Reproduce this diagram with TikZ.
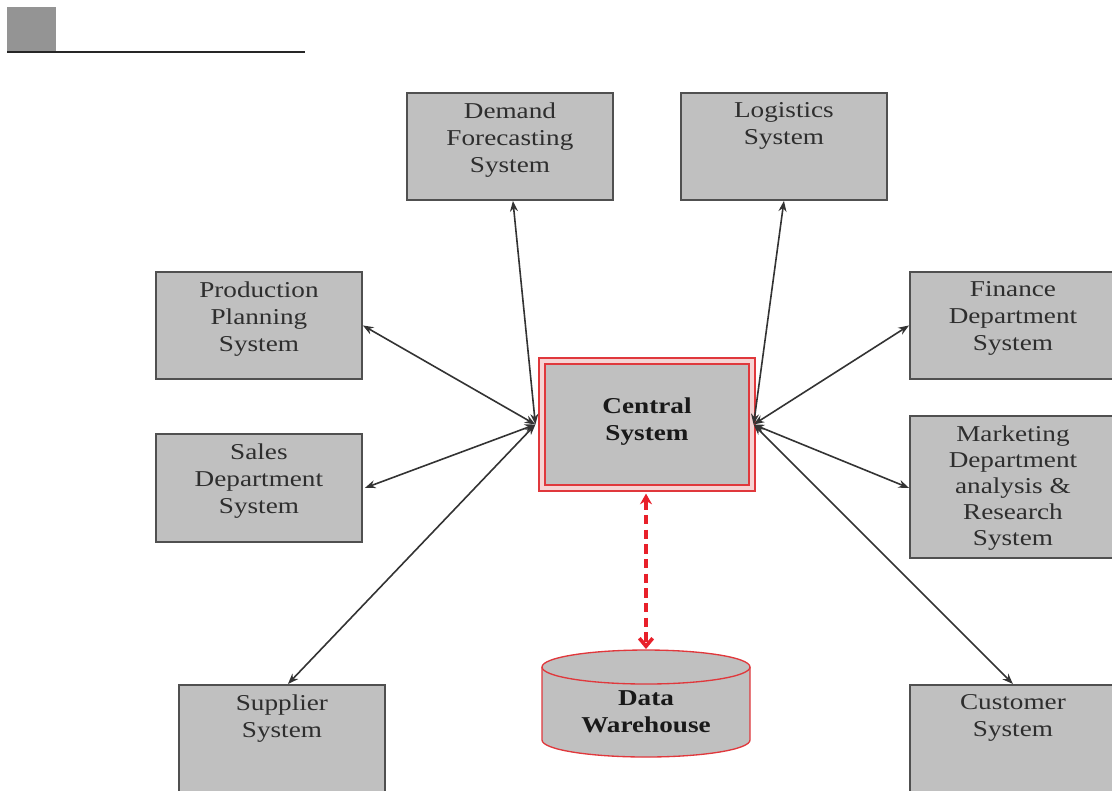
\documentclass[tikz,border=0pt]{standalone}
\usepackage{fontspec}
\setmainfont{Liberation Serif}[FakeStretch=1.2]
\usetikzlibrary{arrows.meta,calc}

\definecolor{boxgray}{HTML}{C0C0C0}
\definecolor{edgegray}{HTML}{505050}
\definecolor{inkgray}{HTML}{2E2E2E}
\definecolor{hubred}{HTML}{E0383C}
\definecolor{hubpink}{HTML}{F6D4D4}
\definecolor{linkred}{HTML}{E8202A}

\tikzset{
  sysbox/.style={draw=edgegray, line width=1.4pt, fill=boxgray, anchor=north west,
    inner sep=0pt, minimum width=154.5pt, minimum height=80.25pt},
  boxtext/.style={anchor=north, align=center, inner sep=0pt, text=inkgray,
    font=\fontsize{17}{20.25}\selectfont},
  boldtext/.style={align=center, inner sep=0pt, text=black!90,
    font=\fontsize{17}{20.25}\selectfont\bfseries},
  link/.style={draw=black!80, line width=1.2pt,
    {Stealth[length=8pt,width=6pt]}-{Stealth[length=8pt,width=6pt]}},
  dwlink/.style={draw=linkred, line width=2.7pt, dash pattern=on 7pt off 4pt,
    {Stealth[length=8pt,width=9pt]}-{Straight Barb[length=6pt,width=10pt]}},
}

\begin{document}
\begin{tikzpicture}[x=0.75pt,y=-0.75pt]
\useasboundingbox (0,0) rectangle (1112,790);

% header mark
\fill[fill=black!42] (7,7) rectangle (56,52);
\draw[line width=2.2pt, black!85] (7,52) -- (305,52);

% peripheral systems
\node[sysbox] (dem) at (406,92) {};
\node[boxtext] (demT) at ($(dem.north)+(0,10)$) {Demand\\Forecasting\\System};

\node[sysbox] (log) at (680,92) {};
\node[boxtext] (logT) at ($(log.north)+(0,10)$) {Logistics\\System};

\node[sysbox] (prod) at (155,271) {};
\node[boxtext] (prodT) at ($(prod.north)+(0,10)$) {Production\\Planning\\System};

\node[sysbox, minimum height=81pt] (sales) at (155,433) {};
\node[boxtext] (salesT) at ($(sales.north)+(0,10)$) {Sales\\Department\\System};

\node[sysbox] (fin) at (909,271) {};
\node[boxtext] (finT) at ($(fin.north)+(0,10)$) {Finance\\Department\\System};

\node[sysbox, minimum height=106.5pt] (mkt) at (909,415) {};
\node[boxtext, font=\fontsize{17}{19.5}\selectfont] (mktT) at ($(mkt.north)+(0,10)$)
  {Marketing\\Department\\analysis \&\\Research\\System};

\node[sysbox] (sup) at (178,684) {};
\node[boxtext] (supT) at ($(sup.north)+(0,10)$) {Supplier\\System};

\node[sysbox] (cust) at (909,684) {};
\node[boxtext] (custT) at ($(cust.north)+(0,10)$) {Customer\\System};

% central system with double red border
\node[draw=hubred, line width=0.9pt, fill=hubpink, minimum width=162pt,
      minimum height=99.75pt, inner sep=0pt,
      path picture={\draw[hubred, line width=0.9pt, fill=boxgray]
        ($(path picture bounding box.north west)+(6,6)$) rectangle
        ($(path picture bounding box.south east)+(-6,-6)$);}]
  (cen) at (647,424.5) {};
\node[boldtext] (cenT) at (647,422) {Central\\System};

% data warehouse cylinder
\path[fill=boxgray, draw=hubred, line width=1pt]
  (542,667) -- (542,740) arc[start angle=180, end angle=0, x radius=104, y radius=17]
  -- (750,667) arc[start angle=0, end angle=-180, x radius=104, y radius=17] -- cycle;
\draw[hubred, line width=1pt]
  (542,667) arc[start angle=180, end angle=0, x radius=104, y radius=17];
\node[boldtext] (dw) at (646,712) {Data\\Warehouse};
\coordinate (dwtop) at (646,649);

% connectors
\coordinate (hubL) at ($(cen.west)+(-3,0)$);
\coordinate (hubR) at ($(cen.east)+(-2,0)$);
\draw[link] (hubL) -- ($(dem.south)+(3,0)$);
\draw[link] (hubL) -- (prod.east);
\draw[link] (hubL) -- ($(sales.east)+(2,0)$);
\draw[link] (hubL) -- ($(sup.north)+(6,0)$);
\draw[link] (hubR) -- (log.south);
\draw[link] (hubR) -- (fin.west);
\draw[link] (hubR) -- ($(mkt.west)+(0,1)$);
\draw[link] (hubR) -- (cust.north);
\draw[dwlink] ($(cen.south)+(-1,2)$) -- (dwtop);
\end{tikzpicture}
\end{document}
